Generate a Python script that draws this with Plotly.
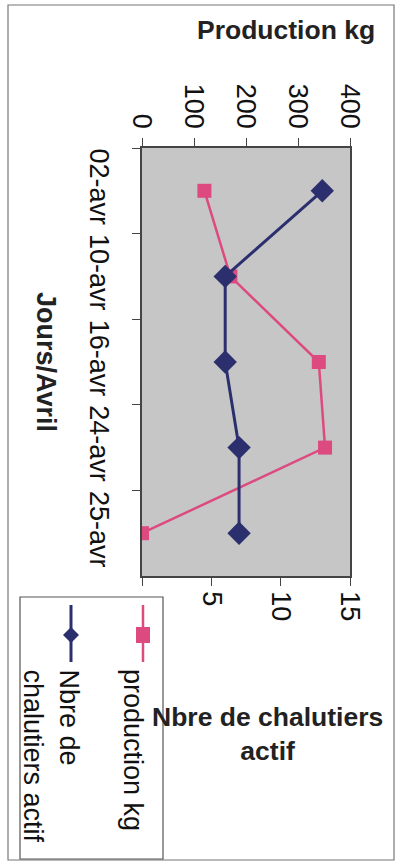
import plotly.graph_objects as go

days = ["02-avr", "10-avr", "16-avr", "24-avr", "25-avr"]
production_kg = [120, 170, 340, 352, 0]
nbre_chalutiers = [13, 6, 6, 7, 7]
prod_ticks = [0, 100, 200, 300, 400]
nbre_ticks = [0, 5, 10, 15]
nbre_ticktext = ["", "5", "10", "15"]

W, H = 398, 864
L, R, T, B = 142, 350, 148, 576  # plot area in px

def px(xp):
    return (xp - L) / (R - L)

def py(yp):
    return (B - yp) / (B - T)

PINK = "#dc4a80"
NAVY = "#2c2f6e"
FONT = "Liberation Sans, Arial, sans-serif"
FS = 27

fig = go.Figure()
fig.add_trace(go.Scatter(
    x=production_kg, y=days, name="production kg", mode="lines+markers",
    line=dict(color=PINK, width=2.5),
    marker=dict(symbol="square", size=14, color=PINK),
    xaxis="x", yaxis="y", showlegend=False))
fig.add_trace(go.Scatter(
    x=nbre_chalutiers, y=days, name="Nbre de chalutiers actif", mode="lines+markers",
    line=dict(color=NAVY, width=3),
    marker=dict(symbol="diamond", size=18, color=NAVY),
    xaxis="x2", yaxis="y", showlegend=False))

axcommon = dict(showgrid=False, zeroline=False, showline=True, linecolor="#444",
                linewidth=1.5, ticks="outside", ticklen=8, tickcolor="#444",
                tickfont=dict(family=FONT, size=FS, color="#111"), tickangle=90)

fig.update_layout(
    width=W, height=H, autosize=False,
    margin=dict(l=L, r=W - R, t=T, b=H - B, pad=0),
    paper_bgcolor="white", plot_bgcolor="#c6c6c6",
    xaxis=dict(range=[0, 400], side="top", tickvals=prod_ticks, mirror=True, **axcommon),
    xaxis2=dict(range=[0, 15], side="bottom", overlaying="x", anchor="y",
                tickvals=nbre_ticks, ticktext=nbre_ticktext, **axcommon),
    yaxis=dict(type="category", categoryorder="array", categoryarray=days,
               range=[len(days) - 0.5, -0.5], tickson="boundaries", mirror=True,
               ticklabelstandoff=18, **axcommon),
)

bold = dict(family=FONT, size=26.5, color="#222")
ann = [
    dict(text="<b>Production kg</b>", x=px(377), y=py(30), xanchor="right", yanchor="middle",
         font=bold),
    dict(text="<b>Jours/Avril</b>", x=px(46), y=py(362), xanchor="center", yanchor="middle",
         textangle=90, font=dict(family=FONT, size=27, color="#222")),
    dict(text="<b>Nbre de chalutiers<br>actif</b>", x=px(267), y=py(734), xanchor="center",
         yanchor="middle", font=bold, align="center"),
    dict(text="production kg", x=px(133), y=py(667), xanchor="center", yanchor="top",
         textangle=90, font=dict(family=FONT, size=FS, color="#111")),
    dict(text="Nbre de<br>chalutiers actif", x=px(51), y=py(667), xanchor="center", yanchor="top",
         textangle=90, align="left", font=dict(family=FONT, size=FS, color="#111")),
]
for a in ann:
    a.update(xref="paper", yref="paper", showarrow=False)
fig.update_layout(annotations=ann)

shapes = [
    # outer frame
    dict(type="rect", x0=px(8), x1=px(394), y0=py(5), y1=py(860),
         line=dict(color="#777", width=1.2), fillcolor="rgba(0,0,0,0)"),
    # legend box
    dict(type="rect", x0=px(20), x1=px(163), y0=py(597), y1=py(859),
         line=dict(color="#555", width=1.2), fillcolor="white"),
    # legend keys
    dict(type="line", x0=px(143), x1=px(143), y0=py(605), y1=py(662),
         line=dict(color=PINK, width=2.5)),
    dict(type="rect", x0=px(136), x1=px(150), y0=py(627), y1=py(643),
         line=dict(color=PINK, width=0), fillcolor=PINK),
    dict(type="line", x0=px(71), x1=px(71), y0=py(605), y1=py(662),
         line=dict(color=NAVY, width=3)),
    dict(type="path",
         path=f"M {px(63)},{py(635)} L {px(71)},{py(627)} L {px(79)},{py(635)} L {px(71)},{py(643)} Z",
         line=dict(color=NAVY, width=0), fillcolor=NAVY),
]
for s in shapes:
    s.update(xref="paper", yref="paper")
fig.update_layout(shapes=shapes)

fig.write_html("out.html")
